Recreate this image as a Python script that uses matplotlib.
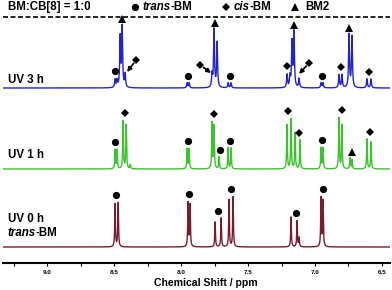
import numpy as np
import matplotlib
matplotlib.use('Agg')
import matplotlib.pyplot as plt

plt.rcParams['font.family'] = ['Liberation Sans', 'DejaVu Sans']

# line positions (ppm) and heights of each spectrum
uv0_shift = [8.493, 8.470, 7.948, 7.933, 7.746, 7.701, 7.642, 7.612, 7.179, 7.134, 7.119, 6.955, 6.940]
uv0_height = [43, 44, 44, 42, 25, 29, 47, 50, 30, 26, 9, 49, 46]

uv1_shift = [8.493, 8.478, 8.433, 8.410, 8.380, 7.955, 7.940, 7.769, 7.754, 7.716, 7.649, 7.627,
             7.209, 7.179, 7.149, 7.112, 6.955, 6.940, 6.821, 6.799, 6.739, 6.724, 6.612, 6.582]
uv1_height = [19, 19, 48, 44, 4, 20, 20, 46, 43, 12, 21, 21,
              44, 50, 36, 29, 21, 21, 51, 44, 11, 9, 30, 27]

uv3_shift = [8.493, 8.478, 8.455, 8.440, 8.418, 7.955, 7.940, 7.769, 7.754, 7.731, 7.649, 7.627,
             7.209, 7.187, 7.172, 7.157, 7.119, 6.955, 6.940, 6.821, 6.799, 6.746, 6.724, 6.612, 6.582]
uv3_height = [8, 7, 50, 60, 13, 5, 5, 13, 58, 45, 5, 5,
              13, 11, 45, 55, 9, 5, 5, 13, 13, 53, 51, 9, 9]

# peak assignments: (ppm, kind)  o = trans-BM, D = cis-BM, ^ = BM2
uv0_marks = [(8.485, 'o'), (7.940, 'o'), (7.724, 'o'), (7.627, 'o'), (7.142, 'o'), (6.940, 'o')]
uv1_marks = [(8.493, 'o'), (8.418, 'D'), (7.948, 'o'), (7.754, 'D'), (7.709, 'o'), (7.634, 'o'),
             (7.201, 'D'), (7.119, 'D'), (6.948, 'o'), (6.799, 'D'), (6.724, '^'), (6.590, 'D')]
uv3_marks = [(8.493, 'o'), (8.440, '^'), (7.948, 'o'), (7.746, '^'), (7.634, 'o'), (7.209, 'D'),
             (7.157, '^'), (6.948, 'o'), (6.806, 'D'), (6.746, '^'), (6.597, 'D')]
# cis-BM shoulders in the UV 3 h spectrum marked with arrows
arrow_mark_ppm = [8.336, 7.858, 7.045]
arrow_mark_h = [28, 23, 25]
arrow_tip_ppm = [8.403, 7.776, 7.119]
arrow_tip_h = [16, 15, 14]

spectra = [
    ('UV 3 h', uv3_shift, uv3_height, uv3_marks, 175, '#2424c8', 0.004),
    ('UV 1 h', uv1_shift, uv1_height, uv1_marks, 94, '#3cc22c', 0.003),
    ('UV 0 h', uv0_shift, uv0_height, uv0_marks, 16, '#7a1c2e', 0.003),
]

ppm = np.linspace(9.33, 6.44, 8000)


def spectrum(shifts, heights, w):
    y = np.zeros_like(ppm)
    for s, h in zip(shifts, heights):
        y += h / (1 + ((ppm - s) / w) ** 2)
    return y


fig = plt.figure(figsize=(3.92, 2.90), dpi=100)
ax = fig.add_axes([3 / 392, 27 / 290, 387 / 392, 263 / 290])
ax.set_xlim(9.33, 6.44)
ax.set_ylim(0, 263)

msize = {'o': 5.2, 'D': 3.7, '^': 5.5}
for name, sh, hh, marks, base, col, w in spectra:
    y = spectrum(sh, hh, w)
    ax.plot(ppm, base + y, color=col, lw=1.0)
    for p, k in marks:
        sel = np.abs(ppm - p) < 0.025
        top = y[sel].max() + (5 if k == '^' else 7)
        ax.plot(p, base + top, marker=k, ms=msize[k], color='k', mew=0, clip_on=False)

for mp, mh, tp, th in zip(arrow_mark_ppm, arrow_mark_h, arrow_tip_ppm, arrow_tip_h):
    ax.plot(mp, 175 + mh, marker='D', ms=msize['D'], color='k', mew=0)
    ax.annotate('', xy=(tp, 175 + th), xytext=(mp, 175 + mh),
                arrowprops=dict(arrowstyle='-|>', color='k', lw=1.3, shrinkA=3, shrinkB=0,
                                mutation_scale=6))

ax.axhline(246, color='k', lw=1.2, ls=(0, (3, 1.5)))

for s in ['top', 'left', 'right']:
    ax.spines[s].set_visible(False)
ax.spines['bottom'].set_linewidth(1.5)
ax.set_yticks([])
ax.set_xticks([9.0, 8.5, 8.0, 7.5, 7.0, 6.5])
ax.set_xticks([9.25, 8.75, 8.25, 7.75, 7.25, 6.75], minor=True)
ax.tick_params(axis='x', which='both', direction='out', length=2, width=0.8, pad=3,
               labelsize=4.5)
for t in ax.get_xticklabels():
    t.set_fontweight('bold')
ax.set_xlabel('Chemical Shift / ppm', fontsize=7.6, fontweight='bold')
ax.xaxis.set_label_coords((206 - 3) / 387, (263 - 283) / 263)
ax.xaxis.label.set_va('center')


def fx(x):
    return x / 392


def fy(y):
    return 1 - y / 290


def italic_then_bold(x, y, a, b):
    t = fig.text(fx(x), fy(y), a, fontsize=fs, fontweight='bold', style='italic',
                 va='center')
    ax.annotate(b, xy=(1, 0), xycoords=t, xytext=(-0.6, 0), textcoords='offset points',
                va='bottom', ha='left', fontsize=fs, fontweight='bold',
                annotation_clip=False)


fs = 8.3
fig.text(fx(8), fy(7), 'BM:CB[8] = 1:0', fontsize=fs, fontweight='bold', va='center')
leg = [(135, 'o', 'trans', '-BM'), (226, 'D', 'cis', '-BM'), (295, '^', 'BM2', '')]
for x, k, a, b in leg:
    fig.add_artist(plt.Line2D([fx(x)], [fy(7)], marker=k, ms=msize[k], color='k', mew=0,
                              transform=fig.transFigure))
    if b:
        italic_then_bold(x + 8, 7, a, b)
    else:
        fig.text(fx(x + 10), fy(7), a, fontsize=fs, fontweight='bold', va='center')

fig.text(fx(8), fy(80), 'UV 3 h', fontsize=fs, fontweight='bold', va='center')
fig.text(fx(8), fy(155), 'UV 1 h', fontsize=fs, fontweight='bold', va='center')
fig.text(fx(8), fy(219), 'UV 0 h', fontsize=fs, fontweight='bold', va='center')
italic_then_bold(8, 233, 'trans', '-BM')

fig.savefig('out.png', dpi=100)
